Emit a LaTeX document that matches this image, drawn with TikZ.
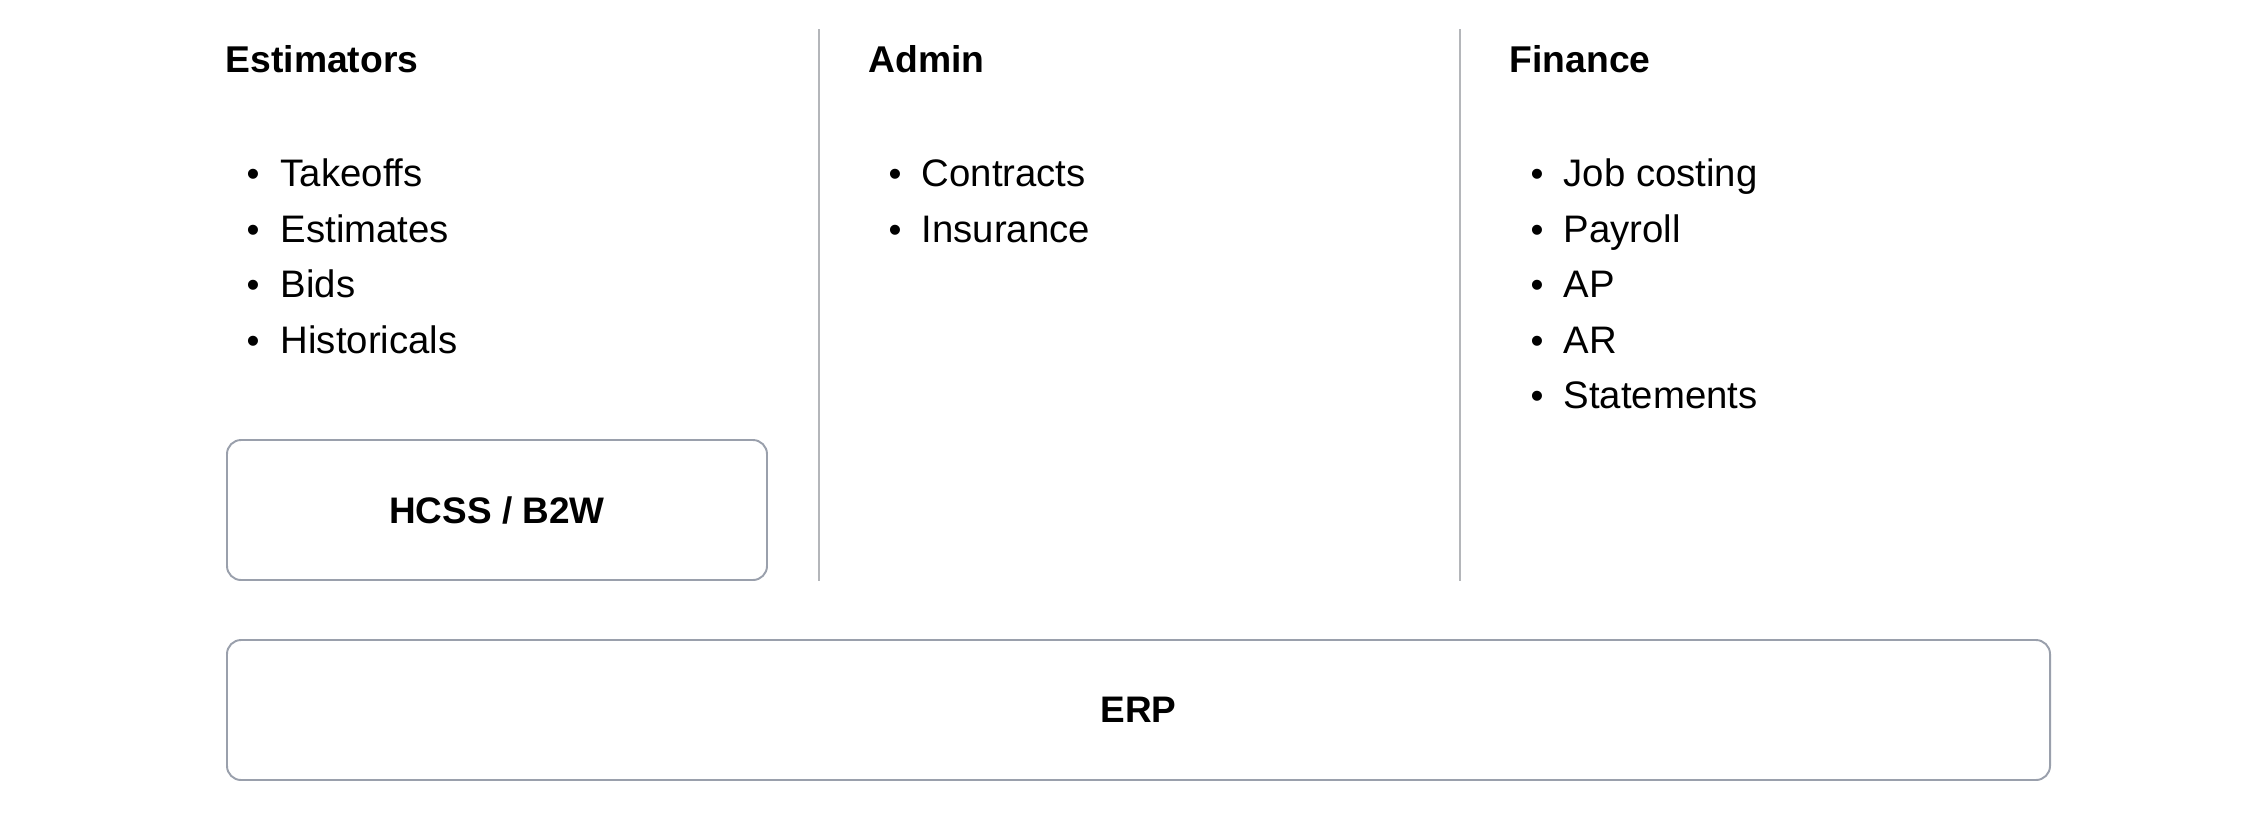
\documentclass[tikz,border=0pt]{standalone}
\usepackage{fontspec}
\setmainfont{Liberation Sans}
\definecolor{boxgray}{HTML}{9AA0AC}
\definecolor{linegray}{HTML}{B4B6BA}
\tikzset{
  x=0.01cm, y=-0.01cm,
  head/.style={anchor=base west, inner sep=0pt, font=\fontsize{10.6}{12}\selectfont\bfseries},
  item/.style={anchor=base west, inner sep=0pt, font=\fontsize{10.9}{12}\selectfont},
  dot/.style={anchor=base west, inner sep=0pt, font=\fontsize{10.5}{12}\selectfont},
  sysbox/.style={draw=boxgray, line width=0.55pt, rounded corners=4pt, inner sep=0pt, font=\fontsize{10.5}{12}\selectfont\bfseries},
  divider/.style={draw=linegray, line width=0.6pt}
}
\begin{document}
\begin{tikzpicture}
\useasboundingbox (0,0) rectangle (2264,814);
% headers
\node[head] (hEst) at (225,72) {Estimators};
\node[head] (hAdm) at (868,72) {Admin};
\node[head] (hFin) at (1509,72) {Finance};
% Estimators items
\node[dot] (bE1) at (246,186) {•}; \node[item] (iE1) at (280,186) {Takeoffs};
\node[dot] (bE2) at (246,242) {•}; \node[item] (iE2) at (280,242) {Estimates};
\node[dot] (bE3) at (246,297) {•}; \node[item] (iE3) at (280,297) {Bids};
\node[dot] (bE4) at (246,353) {•}; \node[item] (iE4) at (280,353) {Historicals};
% Admin items
\node[dot] (bA1) at (888,186) {•}; \node[item] (iA1) at (921,186) {Contracts};
\node[dot] (bA2) at (888,242) {•}; \node[item] (iA2) at (921,242) {Insurance};
% Finance items
\node[dot] (bF1) at (1530,186) {•}; \node[item] (iF1) at (1563,186) {Job costing};
\node[dot] (bF2) at (1530,242) {•}; \node[item] (iF2) at (1563,242) {Payroll};
\node[dot] (bF3) at (1530,297) {•}; \node[item] (iF3) at (1563,297) {AP};
\node[dot] (bF4) at (1530,353) {•}; \node[item] (iF4) at (1563,353) {AR};
\node[dot] (bF5) at (1530,408) {•}; \node[item] (iF5) at (1563,408) {Statements};
% dividers
\coordinate (d1t) at (819,29); \coordinate (d1b) at (819,581);
\coordinate (d2t) at (1460,29); \coordinate (d2b) at (1460,581);
\draw[divider] (d1t) -- (d1b);
\draw[divider] (d2t) -- (d2b);
% boxes
\node[sysbox, minimum width=540*0.01cm, minimum height=140*0.01cm] (hcss) at (497,510) {HCSS / B2W};
\node[sysbox, minimum width=1823*0.01cm, minimum height=140*0.01cm] (erp) at (1138.5,710) {ERP};
\end{tikzpicture}
\end{document}
